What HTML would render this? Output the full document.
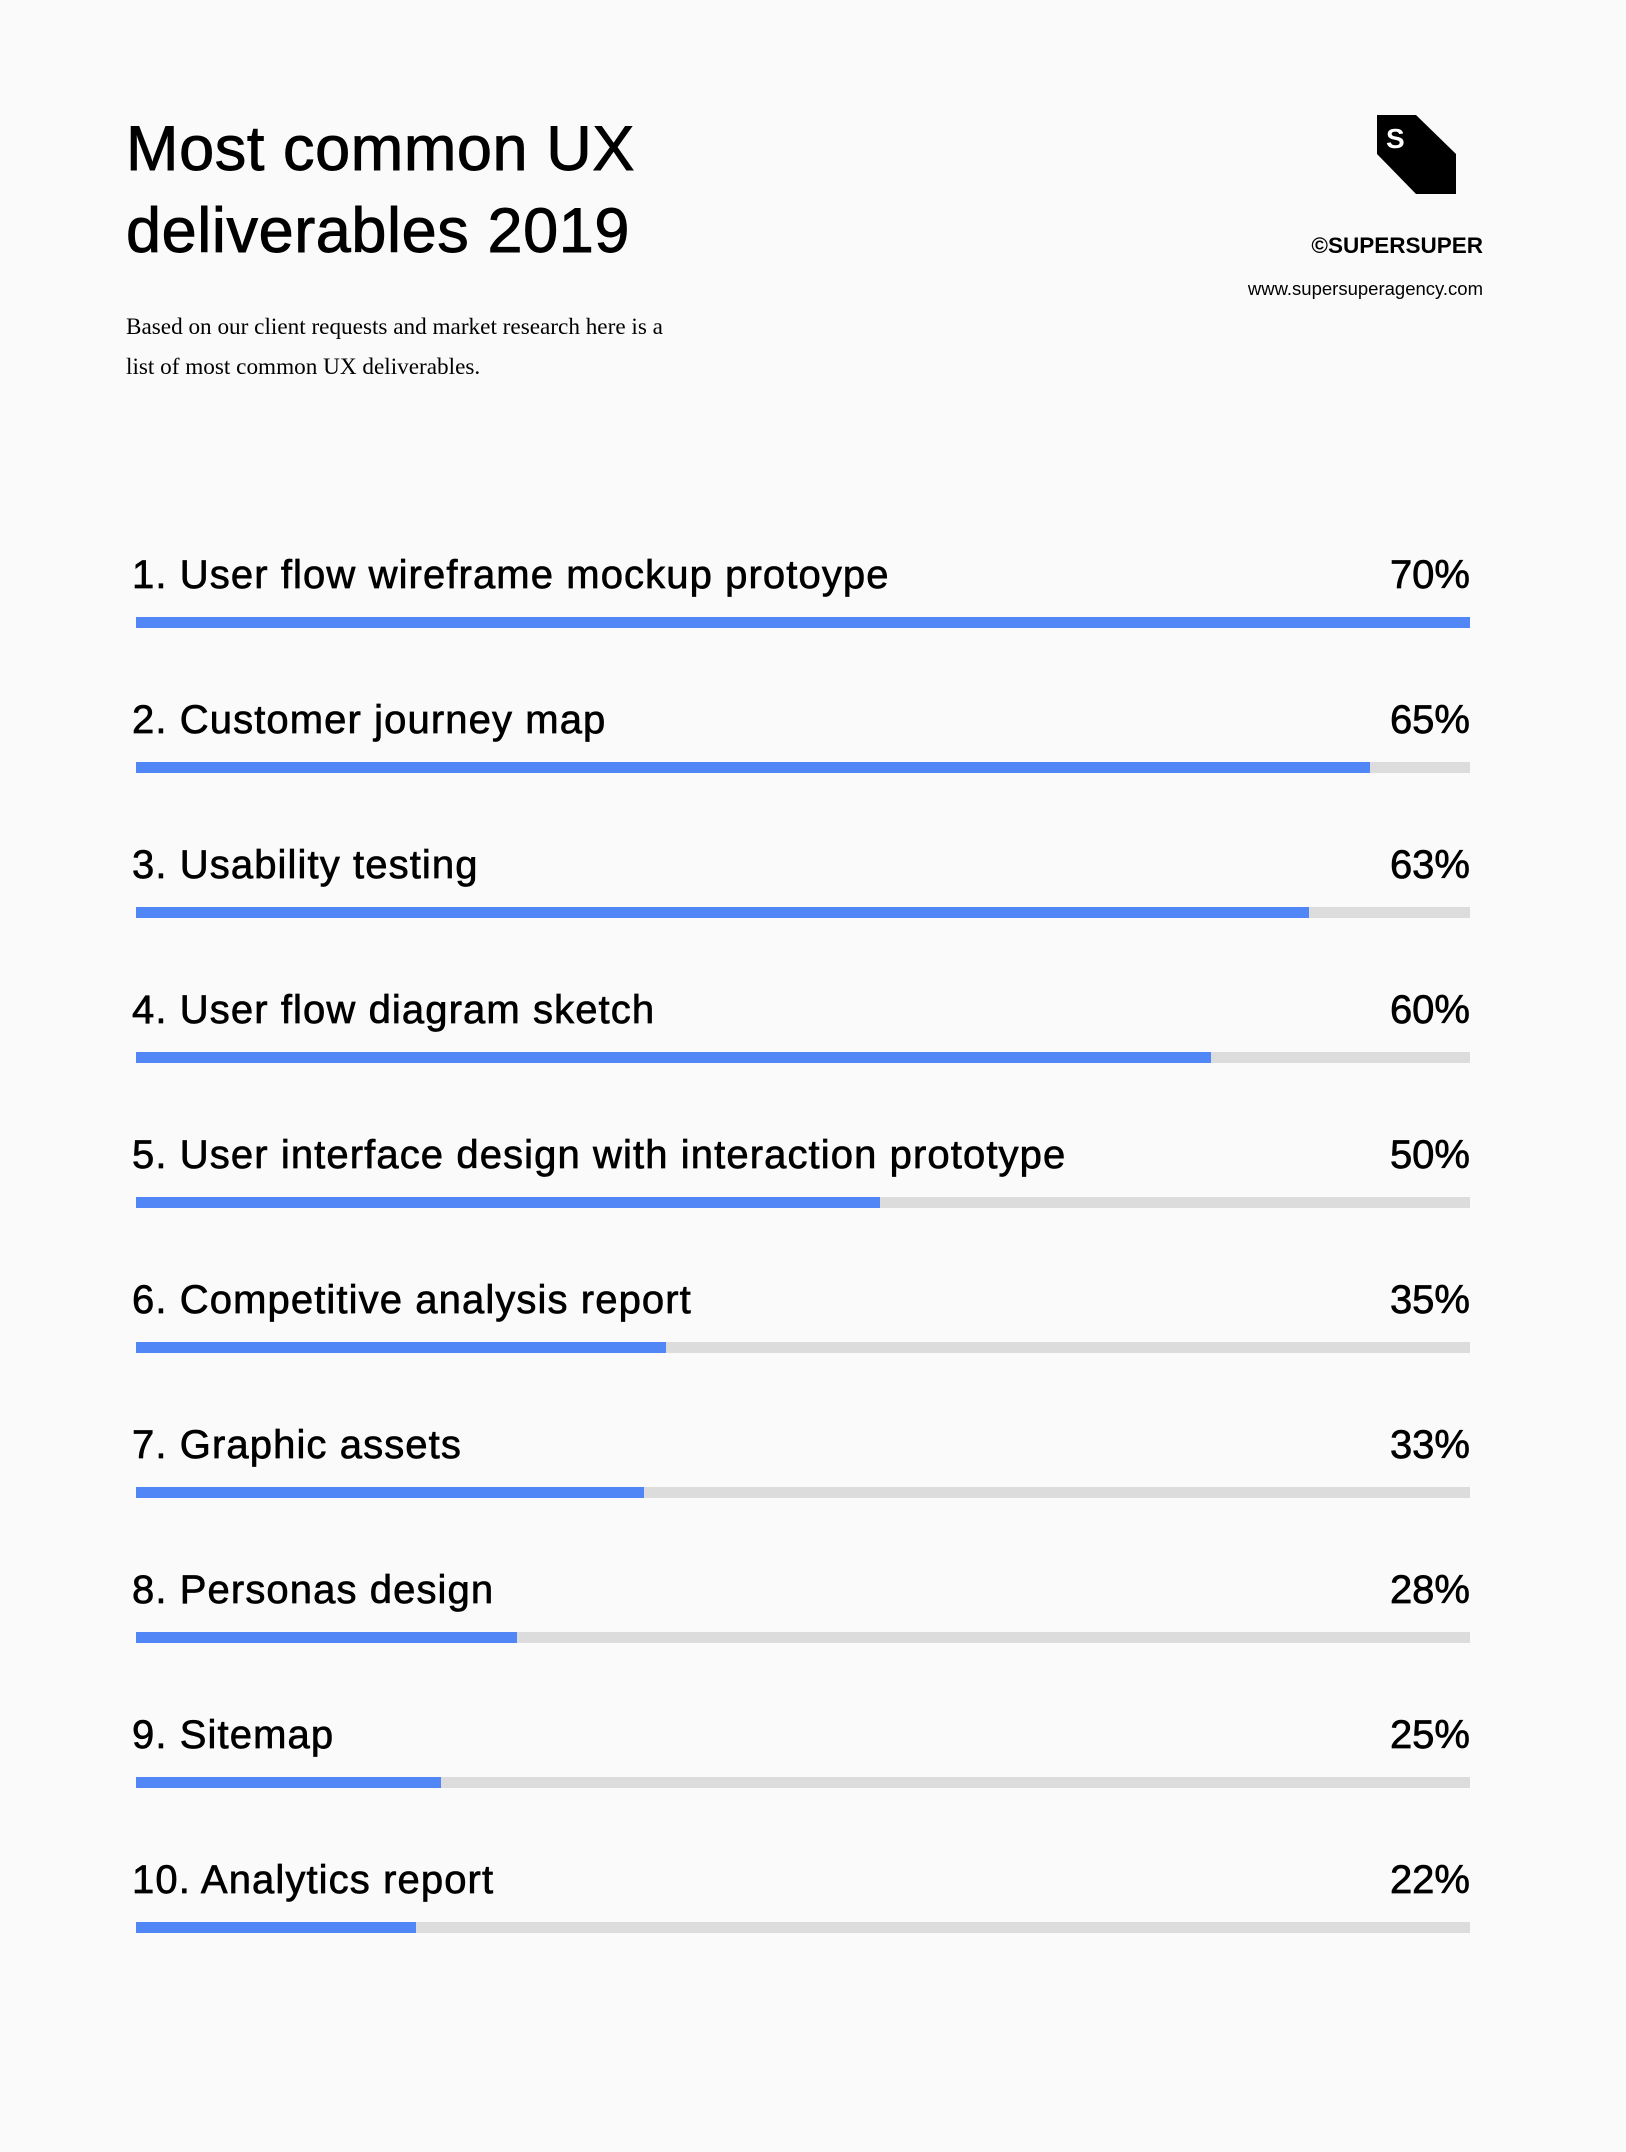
<!DOCTYPE html>
<html><head><meta charset="utf-8"><style>
html,body{margin:0;padding:0;background:#fafafa;}
body{width:1626px;height:2152px;position:relative;overflow:hidden;font-family:"Liberation Sans",sans-serif;color:#000;}
.a{position:absolute;white-space:nowrap;}
.t{font-size:63px;left:126px;line-height:1;letter-spacing:0.6px;-webkit-text-stroke:0.9px #000;}
.lab{font-size:40px;left:132px;line-height:1;letter-spacing:1.1px;-webkit-text-stroke:0.7px #000;}
.pct{font-size:40px;right:156px;line-height:1;-webkit-text-stroke:0.7px #000;}
.bar{position:absolute;left:136px;width:1334px;height:11px;background:#dcdcdc;}
.bar i{display:block;height:100%;background:#5086f5;}
</style></head><body>
<div class="a t" style="top:118px">Most common UX</div>
<div class="a t" style="top:200px">deliverables 2019</div>
<div class="a" style="left:126px;top:307px;font-family:'Liberation Serif',serif;font-size:23.2px;line-height:40px">Based on our client requests and market research here is a<br>list of most common UX deliverables.</div>
<svg class="a" style="left:1370px;top:110px" width="95" height="90" viewBox="1370 110 95 90"><polygon points="1377,115 1416,115 1456,154 1456,194 1416,194 1377,154" fill="#000"/><text x="1386" y="148" font-family="Liberation Sans" font-weight="bold" font-size="28" fill="#fff">S</text></svg>
<div class="a" style="right:143px;top:235px;font-size:22.5px;font-weight:bold;line-height:1">©SUPERSUPER</div>
<div class="a" style="right:143px;top:280px;font-size:18.5px;line-height:1">www.supersuperagency.com</div>

<div class="a lab" style="top:555px">1. User flow wireframe mockup protoype</div><div class="a pct" style="top:555px">70%</div>
<div class="bar" style="top:617px"><i style="width:1334px"></i></div>
<div class="a lab" style="top:700px">2. Customer journey map</div><div class="a pct" style="top:700px">65%</div>
<div class="bar" style="top:762px"><i style="width:1234px"></i></div>
<div class="a lab" style="top:845px">3. Usability testing</div><div class="a pct" style="top:845px">63%</div>
<div class="bar" style="top:907px"><i style="width:1173px"></i></div>
<div class="a lab" style="top:990px">4. User flow diagram sketch</div><div class="a pct" style="top:990px">60%</div>
<div class="bar" style="top:1052px"><i style="width:1075px"></i></div>
<div class="a lab" style="top:1135px">5. User interface design with interaction prototype</div><div class="a pct" style="top:1135px">50%</div>
<div class="bar" style="top:1197px"><i style="width:744px"></i></div>
<div class="a lab" style="top:1280px">6. Competitive analysis report</div><div class="a pct" style="top:1280px">35%</div>
<div class="bar" style="top:1342px"><i style="width:530px"></i></div>
<div class="a lab" style="top:1425px">7. Graphic assets</div><div class="a pct" style="top:1425px">33%</div>
<div class="bar" style="top:1487px"><i style="width:508px"></i></div>
<div class="a lab" style="top:1570px">8. Personas design</div><div class="a pct" style="top:1570px">28%</div>
<div class="bar" style="top:1632px"><i style="width:381px"></i></div>
<div class="a lab" style="top:1715px">9. Sitemap</div><div class="a pct" style="top:1715px">25%</div>
<div class="bar" style="top:1777px"><i style="width:305px"></i></div>
<div class="a lab" style="top:1860px">10. Analytics report</div><div class="a pct" style="top:1860px">22%</div>
<div class="bar" style="top:1922px"><i style="width:280px"></i></div>
</body></html>
